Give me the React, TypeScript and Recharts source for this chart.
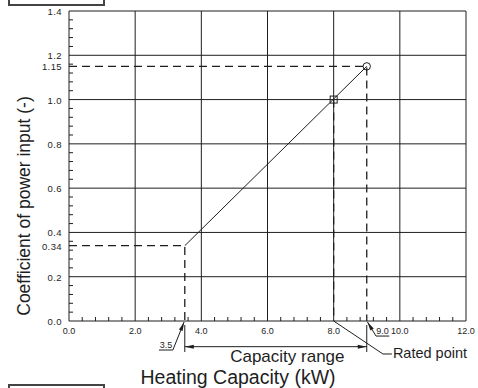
import { LineChart, Line, XAxis, YAxis, CartesianGrid, ReferenceLine, ReferenceDot } from 'recharts'

// capacity characteristic
const curve = [
  { x: 3.5, y: 0.34 },
  { x: 9.0, y: 1.15 },
]
const minGuide = [
  { x: 0, y: 0.34 },
  { x: 3.5, y: 0.34 },
  { x: 3.5, y: 0 },
]
const maxGuide = [
  { x: 0, y: 1.15 },
  { x: 9.0, y: 1.15 },
  { x: 9.0, y: 0 },
]
const ratedGuide = [
  { x: 8.0, y: 1.0 },
  { x: 8.0, y: 0 },
]
const ratedPoint = { x: 8.0, y: 1.0 }
const maxPoint = { x: 9.0, y: 1.15 }

const X_MAJOR = [0, 2, 4, 6, 8, 10, 12]
const Y_MAJOR = [0, 0.2, 0.4, 0.6, 0.8, 1.0, 1.2, 1.4]
const Y_MARKED = [0.34, 1.15]
const X_GRID = [2, 4, 6, 8, 10, 12]
const Y_GRID = [0.2, 0.4, 0.6, 0.8, 1.0, 1.2, 1.4]

// small inward ticks between the labelled ones
const X_MINOR = Array.from({ length: 31 }, (_, i) => Math.round(i * 4) / 10)
const Y_MINOR = Array.from({ length: 36 }, (_, i) => Math.round(i * 4) / 100)
const Y_TICKS = [...Y_MINOR, ...Y_MARKED].sort((a, b) => a - b)

const INK = '#1e1e1e'
const TICK_FONT = '"Liberation Sans", Arial, sans-serif'
const TEXT_FONT = '"Liberation Sans", Arial, sans-serif'

const near = (list: number[], v: number) => list.some((m) => Math.abs(m - v) < 1e-6)

const yLabel = (v: number) => (near(Y_MARKED, v) ? v.toFixed(2) : v.toFixed(1))

const XTick = ({ x, y, payload }: any) => {
  const v = payload.value
  return (
    <g>
      {!near(X_MAJOR, v) && <line x1={x} x2={x} y1={y} y2={y - 4} stroke={INK} />}
      {near(X_MAJOR, v) && (
        <text x={x} y={y + 13} textAnchor="middle" fontSize={9} fontFamily={TICK_FONT} fill={INK}>
          {v.toFixed(1)}
        </text>
      )}
    </g>
  )
}

const YTick = ({ x, y, payload }: any) => {
  const v = payload.value
  const labelled = near(Y_MAJOR, v) || near(Y_MARKED, v)
  return (
    <g>
      {!labelled && <line x1={x} x2={x + 4} y1={y} y2={y} stroke={INK} />}
      {labelled && (
        <text x={x - 7} y={y + 4} textAnchor="end" fontSize={9.5} fontFamily={TICK_FONT} fill={INK} letterSpacing={0.4}>
          {yLabel(v)}
        </text>
      )}
    </g>
  )
}

// line with optional filled arrow heads
const arrow = (atStart: boolean, atEnd: boolean) => (p: any) => {
  const { x1, y1, x2, y2 } = p
  const head = (tx: number, ty: number, fx: number, fy: number) => {
    const a = Math.atan2(ty - fy, tx - fx)
    const len = 9
    const w = 2
    const bx = tx - len * Math.cos(a)
    const by = ty - len * Math.sin(a)
    const nx = -Math.sin(a) * w
    const ny = Math.cos(a) * w
    return <polygon points={`${tx},${ty} ${bx + nx},${by + ny} ${bx - nx},${by - ny}`} fill={INK} />
  }
  return (
    <g>
      <line x1={x1} y1={y1} x2={x2} y2={y2} stroke={INK} strokeWidth={1} />
      {atStart && head(x1, y1, x2, y2)}
      {atEnd && head(x2, y2, x1, y1)}
    </g>
  )
}

const note = (text: string, size: number, anchor: string) => (p: any) => (
  <text x={p.cx} y={p.cy} textAnchor={anchor} fontSize={size} fontFamily={TEXT_FONT} fill={INK}>
    {text}
  </text>
)

const square = (p: any) => <rect x={p.cx - 3.5} y={p.cy - 3.5} width={7} height={7} fill="none" stroke={INK} />
const ring = (p: any) => <circle cx={p.cx} cy={p.cy} r={3.7} fill="none" stroke={INK} />

export default function App() {
  return (
    <div style={{ position: 'absolute', left: 0, top: 0, width: 478, height: 388, background: '#fff', overflow: 'hidden' }}>
      <div style={{ position: 'absolute', left: 8, top: -4, width: 93, height: 6, border: '2px solid #444' }} />
      <div style={{ position: 'absolute', left: 8, top: 384, width: 93, height: 10, border: '2px solid #444' }} />
      <LineChart width={478} height={388} data={curve} margin={{ top: 11, right: 12, bottom: 47, left: 0 }}>
        <CartesianGrid horizontalValues={Y_GRID} verticalValues={X_GRID} stroke={INK} strokeDasharray="" />
        <XAxis
          dataKey="x"
          type="number"
          domain={[0, 12]}
          ticks={X_MINOR}
          interval={0}
          height={20}
          tickSize={0}
          tickMargin={0}
          tickLine={false}
          axisLine={{ stroke: INK }}
          tick={<XTick />}
          allowDataOverflow
          label={(props: any) => {
            const vb = props.viewBox
            return (
              <text x={vb.x + 169} y={vb.y + 63} textAnchor="middle" fontSize={19.5} fontFamily={TEXT_FONT} fill={INK}>
                Heating Capacity (kW)
              </text>
            )
          }}
        />
        <YAxis
          type="number"
          domain={[0, 1.4]}
          ticks={Y_TICKS}
          interval={0}
          width={69}
          tickSize={0}
          tickMargin={0}
          tickLine={false}
          axisLine={{ stroke: INK }}
          tick={<YTick />}
          allowDataOverflow
          label={(props: any) => {
            const vb = props.viewBox
            const cx = vb.x + 24
            const cy = vb.y + vb.height / 2 + 40
            return (
              <text
                x={cx}
                y={cy}
                transform={`rotate(-90, ${cx}, ${cy})`}
                textAnchor="middle"
                dominantBaseline="central"
                fontSize={17.5}
                fontFamily={TEXT_FONT}
                fill={INK}
              >
                Coefficient of power input (-)
              </text>
            )
          }}
        />

        <Line data={minGuide} dataKey="y" stroke={INK} strokeWidth={1.3} strokeDasharray="8 5" dot={false} isAnimationActive={false} />
        <Line data={maxGuide} dataKey="y" stroke={INK} strokeWidth={1.3} strokeDasharray="8 5" dot={false} isAnimationActive={false} />
        <Line data={ratedGuide} dataKey="y" stroke={INK} strokeWidth={1.3} strokeDasharray="8 5" dot={false} isAnimationActive={false} />
        <Line data={curve} dataKey="y" stroke={INK} strokeWidth={1} dot={false} isAnimationActive={false} />

        <ReferenceDot x={ratedPoint.x} y={ratedPoint.y} ifOverflow="visible" shape={square} />
        <ReferenceDot x={maxPoint.x} y={maxPoint.y} ifOverflow="visible" shape={ring} />

        {/* dimension lines under the axis */}
        <ReferenceLine ifOverflow="visible" segment={[{ x: 3.5, y: -0.018 }, { x: 3.5, y: -0.14 }]} shape={arrow(false, false)} />
        <ReferenceLine ifOverflow="visible" segment={[{ x: 9.0, y: -0.018 }, { x: 9.0, y: -0.14 }]} shape={arrow(false, false)} />
        <ReferenceLine ifOverflow="visible" segment={[{ x: 3.5, y: -0.116 }, { x: 9.0, y: -0.116 }]} shape={arrow(true, true)} />
        <ReferenceDot x={6.6} y={-0.183} ifOverflow="visible" shape={note('Capacity range', 17, 'middle')} />

        {/* 3.5 leader */}
        <ReferenceLine ifOverflow="visible" segment={[{ x: 3.48, y: -0.004 }, { x: 3.14, y: -0.131 }]} shape={arrow(true, false)} />
        <ReferenceLine ifOverflow="visible" segment={[{ x: 2.72, y: -0.131 }, { x: 3.14, y: -0.131 }]} shape={arrow(false, false)} />
        <ReferenceDot x={2.93} y={-0.122} ifOverflow="visible" shape={note('3.5', 9, 'middle')} />

        {/* 9.0 leader */}
        <ReferenceLine ifOverflow="visible" segment={[{ x: 9.02, y: -0.004 }, { x: 9.28, y: -0.068 }]} shape={arrow(true, false)} />
        <ReferenceLine ifOverflow="visible" segment={[{ x: 9.28, y: -0.068 }, { x: 9.68, y: -0.068 }]} shape={arrow(false, false)} />
        <ReferenceDot x={9.48} y={-0.059} ifOverflow="visible" shape={note('9.0', 9, 'middle')} />

        {/* rated point leader */}
        <ReferenceLine ifOverflow="visible" segment={[{ x: 8.0, y: 0.0 }, { x: 9.49, y: -0.149 }]} shape={arrow(false, false)} />
        <ReferenceLine ifOverflow="visible" segment={[{ x: 9.49, y: -0.149 }, { x: 9.76, y: -0.149 }]} shape={arrow(false, false)} />
        <ReferenceDot x={9.79} y={-0.167} ifOverflow="visible" shape={note('Rated point', 14.5, 'start')} />
      </LineChart>
    </div>
  )
}
